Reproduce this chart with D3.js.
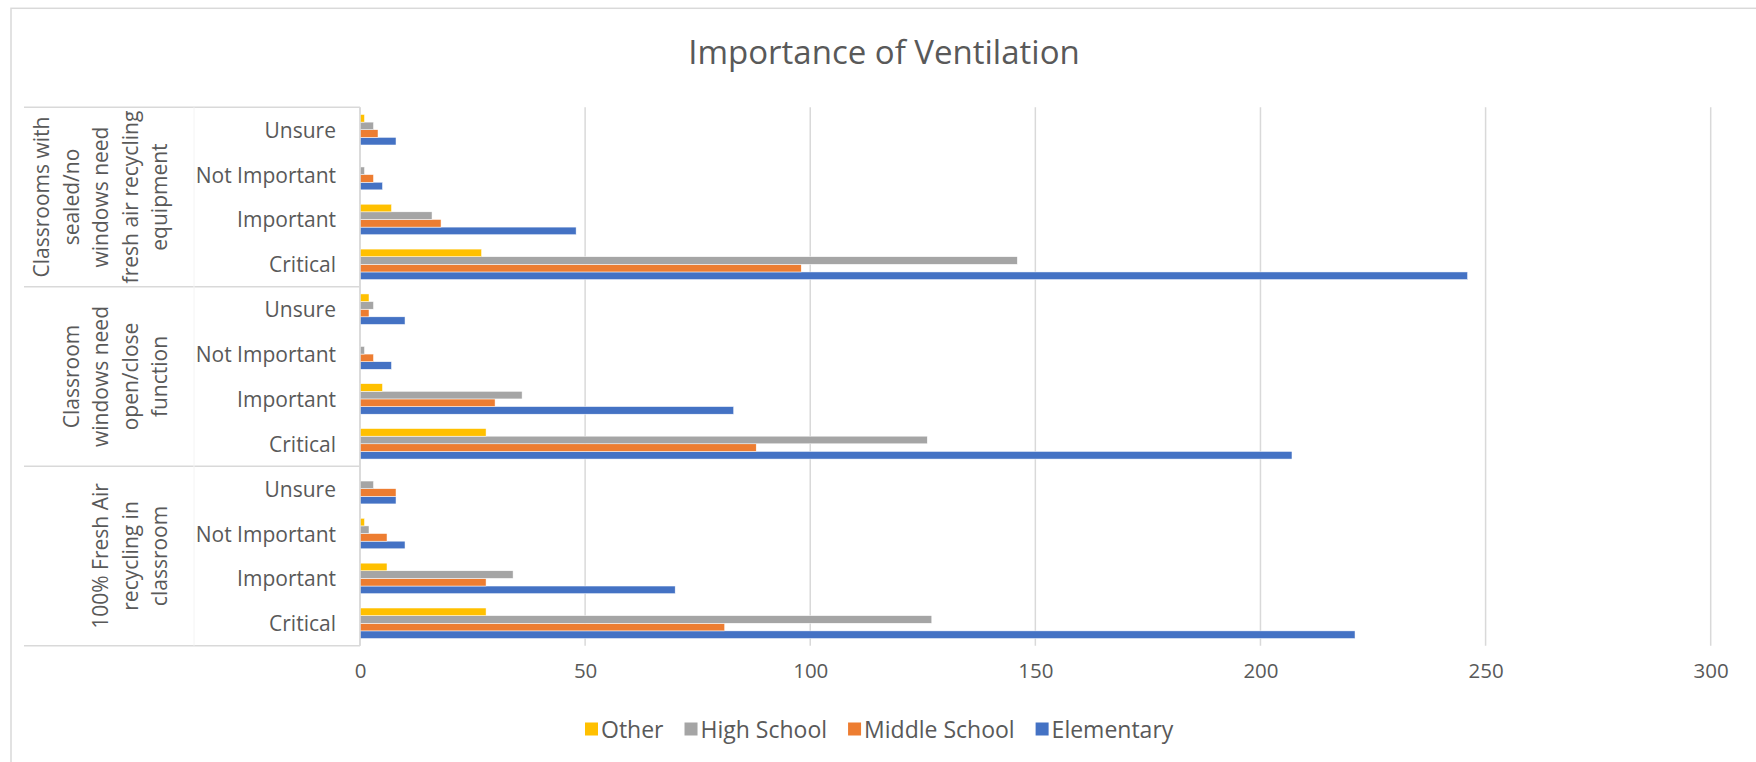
<!DOCTYPE html>
<html>
<head>
<meta charset="utf-8">
<script src="https://cdn.jsdelivr.net/npm/d3@7"></script>
<style>
  body { margin: 0; background: #fff; }
  text { font-family: "Open Sans", sans-serif; fill: #595959; }
</style>
</head>
<body>
<div class="chart-holder"></div>
<script>
// categories, bottom group first (Excel draws the first category at the bottom)
var groups = [
  ["100% Fresh Air", "recycling in", "classroom"],
  ["Classroom", "windows need", "open/close", "function"],
  ["Classrooms with", "sealed/no", "windows need", "fresh air recycling", "equipment"]
];
var levels = ["Critical", "Important", "Not Important", "Unsure"];

// series values, 4 levels per group, groups in the order above
var elementary   = [221, 70, 10, 8,   207, 83, 7, 10,   246, 48, 5, 8];
var middleSchool = [81, 28, 6, 8,     88, 30, 3, 2,     98, 18, 3, 4];
var highSchool   = [127, 34, 2, 3,    126, 36, 1, 3,    146, 16, 1, 3];
var other        = [28, 6, 1, 0,      28, 5, 0, 2,      27, 7, 0, 1];

var seriesNames = ["Elementary", "Middle School", "High School", "Other"];
var legendOrder = ["Other", "High School", "Middle School", "Elementary"];
var xTicks = [0, 50, 100, 150, 200, 250, 300];

var W = 1756, H = 762;
var plot = {left: 360, right: 1710.7, top: 107.3, bottom: 645.7};

var color = d3.scaleOrdinal()
    .domain(seriesNames)
    .range(["#4472C4", "#ED7D31", "#A5A5A5", "#FFC000"]);

var rows = [];
groups.forEach(function(g, gi){
  levels.forEach(function(l, li){
    var i = gi * levels.length + li;
    rows.push({key: gi + "-" + l, level: l, group: gi,
      values: [elementary[i], middleSchool[i], highSchool[i], other[i]]});
  });
});

var scaleX = d3.scaleLinear().domain([0, 300]).range([plot.left, plot.right]);
// first row at the bottom
var scaleY = d3.scaleBand()
    .domain(rows.map(function(d){ return d.key; }))
    .range([plot.bottom, plot.top])
    .paddingInner(0.32).paddingOuter(0.16);
// inside a row: Elementary at the bottom, Other on top
var scaleS = d3.scaleBand()
    .domain(seriesNames.slice().reverse())
    .range([0, scaleY.bandwidth()]);

var svg = d3.select(".chart-holder")
    .append("svg")
    .attr("width", W)
    .attr("height", H);

/* chart border (right and bottom edges sit outside the picture) */
svg.append("rect")
    .attr("x", 11).attr("y", 8.3)
    .attr("width", 1760).attr("height", 800)
    .attr("fill", "none").attr("stroke", "#d9d9d9").attr("stroke-width", 1.5);

svg.append("text")
    .attr("x", 884).attr("y", 64)
    .attr("text-anchor", "middle")
    .style("font-size", "33px")
    .text("Importance of Ventilation");

/* gridlines */
svg.append("g")
    .selectAll("line")
    .data(xTicks)
    .enter().append("line")
    .attr("x1", function(d){ return scaleX(d); })
    .attr("x2", function(d){ return scaleX(d); })
    .attr("y1", plot.top).attr("y2", plot.bottom)
    .attr("stroke", "#d9d9d9").attr("stroke-width", 1.5);

/* x-axis labels */
var xAxis = svg.append("g")
    .attr("transform", "translate(0," + (plot.bottom + 14) + ")")
    .call(d3.axisBottom(scaleX).tickValues(xTicks).tickSize(0).tickPadding(0));
xAxis.select(".domain").remove();
xAxis.selectAll("text")
    .attr("dy", "0.9em")
    .style("font-size", "20.5px")
    .style("font-family", "Open Sans")
    .attr("fill", "#595959");

/* left category table: group separators */
var groupEdges = groups.map(function(g, gi){
  return scaleY(gi + "-" + levels[levels.length - 1]) - scaleY.step() * scaleY.paddingOuter();
});
groupEdges.push(plot.bottom);
var table = svg.append("g");
table.selectAll("line.sep")
    .data(groupEdges)
    .enter().append("line")
    .attr("class", "sep")
    .attr("x1", 24).attr("x2", plot.left)
    .attr("y1", function(d){ return d; }).attr("y2", function(d){ return d; })
    .attr("stroke", "#d9d9d9").attr("stroke-width", 1.5);
table.append("line")
    .attr("x1", 194).attr("x2", 194)
    .attr("y1", plot.top).attr("y2", plot.bottom)
    .attr("stroke", "#f4f4f4").attr("stroke-width", 1);

/* level labels */
svg.append("g")
    .selectAll("text")
    .data(rows)
    .enter().append("text")
    .attr("x", 336)
    .attr("y", function(d){ return scaleY(d.key) + scaleY.bandwidth() / 2; })
    .attr("text-anchor", "end")
    .attr("dominant-baseline", "central")
    .style("font-size", "21px")
    .text(function(d){ return d.level; });

/* group labels, rotated */
groups.forEach(function(g, gi){
  var top = scaleY(gi + "-" + levels[levels.length - 1]);
  var bot = scaleY(gi + "-" + levels[0]) + scaleY.bandwidth();
  var cy = (top + bot) / 2;
  g.forEach(function(line, li){
    var cx = 159 - (g.length - 1 - li) * 29.5;
    svg.append("text")
      .attr("transform", "translate(" + cx + "," + cy + ") rotate(-90)")
      .attr("text-anchor", "middle")
      .attr("dominant-baseline", "central")
      .style("font-size", "21px")
      .text(line);
  });
});

/* bars */
var rowG = svg.append("g")
    .selectAll("g")
    .data(rows)
    .enter().append("g")
    .attr("transform", function(d){ return "translate(0," + scaleY(d.key) + ")"; });
rowG.selectAll("rect")
    .data(function(d){
      return d.values.map(function(v, i){ return {name: seriesNames[i], value: v}; });
    })
    .enter().append("rect")
    .attr("x", scaleX(0))
    .attr("y", function(d){ return scaleS(d.name); })
    .attr("width", function(d){ return scaleX(d.value) - scaleX(0); })
    .attr("height", scaleS.bandwidth())
    .attr("fill", function(d){ return color(d.name); })
    .attr("stroke", "#fff").attr("stroke-width", 0.5);

/* vertical axis line */
svg.append("line")
    .attr("x1", plot.left).attr("x2", plot.left)
    .attr("y1", plot.top).attr("y2", plot.bottom)
    .attr("stroke", "#d9d9d9").attr("stroke-width", 1.5);

/* legend */
var legend = svg.append("g").attr("class", "legend");
var lx = 585, ly = 729;
legendOrder.forEach(function(name){
  legend.append("rect")
    .attr("x", lx).attr("y", ly - 6.5)
    .attr("width", 13).attr("height", 13)
    .attr("fill", color(name));
  var t = legend.append("text")
    .attr("x", lx + 16).attr("y", ly)
    .attr("dominant-baseline", "central")
    .style("font-size", "23px")
    .text(name);
  lx += 16 + t.node().getComputedTextLength() + 21;
});
</script>
</body>
</html>
